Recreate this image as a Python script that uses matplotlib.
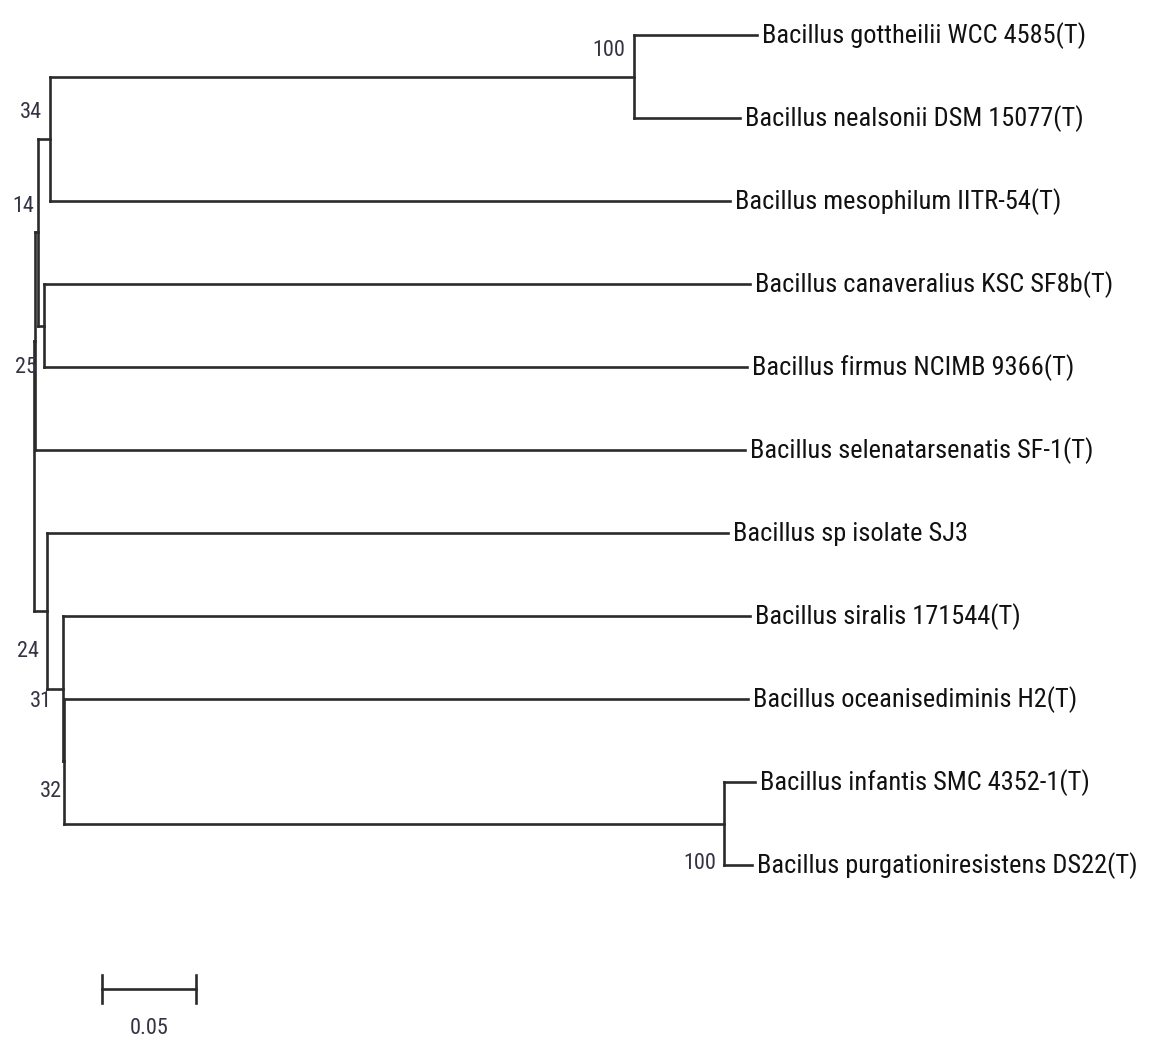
import matplotlib.pyplot as plt

plt.rcParams['font.family'] = ['Roboto Condensed', 'Liberation Sans Narrow', 'Liberation Sans', 'DejaVu Sans']

# leaf labels, top to bottom
taxa = ['Bacillus gottheilii WCC 4585(T)',
        'Bacillus nealsonii DSM 15077(T)',
        'Bacillus mesophilum IITR-54(T)',
        'Bacillus canaveralius KSC SF8b(T)',
        'Bacillus firmus NCIMB 9366(T)',
        'Bacillus selenatarsenatis SF-1(T)',
        'Bacillus sp isolate SJ3',
        'Bacillus siralis 171544(T)',
        'Bacillus oceanisediminis H2(T)',
        'Bacillus infantis SMC 4352-1(T)',
        'Bacillus purgationiresistens DS22(T)']

# tree: node, parent, branch length (substitutions/site)
node = ['root', 'n25', 'n14', 'n34', 'n100a', 't0', 't1', 't2', 'ncf', 't3', 't4', 't5',
        'n24', 't6', 'n31', 't7', 'n32', 't8', 'n100b', 't9', 't10']
parent = [None, 'root', 'n25', 'n14', 'n34', 'n100a', 'n100a', 'n34', 'n14', 'ncf', 'ncf', 'n25',
          'root', 'n24', 'n24', 'n31', 'n31', 'n32', 'n32', 'n100b', 'n100b']
length = [0.0, 0.0008, 0.0016, 0.0064, 0.3106, 0.0654, 0.0564, 0.3617, 0.0032, 0.3755, 0.3739, 0.3777,
          0.0072, 0.3622, 0.0085, 0.3654, 0.0005, 0.3638, 0.3511, 0.0165, 0.0149]

# bootstrap values
boot_node = ['n100a', 'n34', 'n14', 'n25', 'n24', 'n31', 'n32', 'n100b']
boot_val = [100, 34, 14, 25, 24, 31, 32, 100]

scale_len = 0.05

# ---- layout
par = dict(zip(node, parent))
blen = dict(zip(node, length))
kids = {n: [c for c in node if par[c] == n] for n in node}

X = {}
for n in node:
    X[n] = 0.0 if par[n] is None else X[par[n]] + blen[n]

Y = {}
def gety(n):
    if n.startswith('t'):
        Y[n] = int(n[1:])
    else:
        ys = [gety(c) for c in kids[n]]
        Y[n] = (min(ys) + max(ys)) / 2
    return Y[n]
gety('root')

W, H, dpi = 1149, 1044, 100
px_x = 1880.0   # pixels per unit of distance
px_y = 83.0     # pixels per leaf
x0, y0 = 33.5, 35

fig = plt.figure(figsize=(W / dpi, H / dpi), dpi=dpi)
ax = fig.add_axes([0, 0, 1, 1])
ax.set_xlim(-x0 / px_x, (W - x0) / px_x)
ax.set_ylim((H - y0) / px_y, -y0 / px_y)
ax.axis('off')

lc = '#2b2b2b'
lw = 1.9
for n in node:
    if par[n] is not None:
        ax.plot([X[par[n]], X[n]], [Y[n], Y[n]], color=lc, lw=lw, solid_capstyle='projecting')
    if kids[n]:
        ys = [Y[c] for c in kids[n]]
        ax.plot([X[n], X[n]], [min(ys), max(ys)], color=lc, lw=lw, solid_capstyle='projecting')

for i, t in enumerate(taxa):
    ax.annotate(t, (X['t%d' % i], i), xytext=(5, -1), textcoords='offset pixels',
                ha='left', va='center', fontsize=19, color='#111111')

offs = {'n100a': (-9, 26), 'n34': (-8, 26), 'n14': (-4, 26), 'n25': (2, -26),
        'n24': (-8, -41), 'n31': (-11, -13), 'n32': (-2, -30), 'n100b': (-8, -40)}
for n, v in zip(boot_node, boot_val):
    ax.annotate(str(v), (X[n], Y[n]), xytext=offs[n], textcoords='offset pixels',
                ha='right', va='center', fontsize=16, color='#333344')

# scale bar
sx = (102 - x0) / px_x
sy = (989 - y0) / px_y
th = 14 / px_y
ax.plot([sx, sx + scale_len], [sy, sy], color=lc, lw=lw)
ax.plot([sx, sx], [sy - th, sy + th], color=lc, lw=lw)
ax.plot([sx + scale_len, sx + scale_len], [sy - th, sy + th], color=lc, lw=lw)
ax.text(sx + scale_len / 2, sy + 40 / px_y, '%.2f' % scale_len, ha='center', va='center',
        fontsize=16, color='#333344')

fig.savefig('out.png', dpi=dpi)
